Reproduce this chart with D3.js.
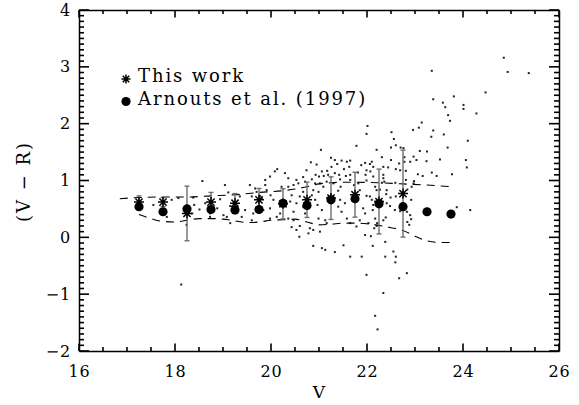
<!DOCTYPE html>
<html><head><meta charset="utf-8">
<script src="https://cdn.jsdelivr.net/npm/d3@7"></script>
<style>body{margin:0;background:#fff}svg{display:block;background:#fff}</style>
</head><body><svg id="c" width="579" height="405"></svg>
<script>
// ---- data ----
const xTicks = [16,18,20,22,24,26];
const yTicks = [-2,-1,0,1,2,3,4];
const thisWorkV = [17.25,17.75,18.25,18.75,19.25,19.75,20.25,20.75,21.25,21.75,22.25,22.75];
const thisWorkC = [0.62,0.62,0.42,0.62,0.60,0.66,0.59,0.66,0.69,0.75,0.63,0.77];
const thisWorkErr = [0.11,0.08,0.48,0.17,0.17,0.20,0.265,0.31,0.375,0.395,0.57,0.765];
const arnoutsV = [17.25,17.75,18.25,18.75,19.25,19.75,20.25,20.75,21.25,21.75,22.25,22.75,23.25,23.75];
const arnoutsC = [0.54,0.45,0.50,0.49,0.48,0.49,0.60,0.56,0.66,0.68,0.59,0.54,0.45,0.41];
const upperV = [16.85,17.25,17.75,18.25,18.75,19.25,19.75,20.25,20.5,20.75,21.0,21.25,21.5,21.75,22.25,22.75,23.25,23.75];
const upperC = [0.68,0.70,0.71,0.71,0.73,0.75,0.79,0.82,0.85,0.89,0.94,0.96,0.97,0.97,0.96,0.94,0.92,0.89];
const lowerV = [17.25,17.5,17.75,18.0,18.25,18.5,18.75,19.0,19.25,19.5,19.75,20.0,20.25,20.5,20.75,21.0,21.25,21.5,21.75,22.0,22.25,22.5,22.75,23.0,23.25,23.5,23.75];
const lowerC = [0.40,0.33,0.28,0.27,0.30,0.33,0.33,0.32,0.29,0.26,0.27,0.30,0.31,0.32,0.27,0.22,0.23,0.25,0.25,0.24,0.21,0.17,0.12,0.02,-0.06,-0.09,-0.09];
const scatterV = [
23.58,23.63,24.01,24.01,24.28,23.69,23.73,23.14,23.08,22.96,23.38,23.60,23.34,22.51,22.56,22.60,22.50,22.70,22.76,22.20,
23.68,24.10,23.10,23.25,23.52,24.06,24.08,22.97,23.03,22.90,23.24,22.31,22.50,22.67,22.78,22.78,22.10,22.06,22.13,22.34,
22.44,22.60,22.81,22.69,22.07,22.34,22.13,22.34,22.36,22.31,22.59,22.98,23.06,23.16,23.35,23.45,23.77,22.97,22.93,22.84,
22.81,22.17,22.20,22.27,22.41,22.06,22.10,22.49,22.60,22.92,22.40,22.13,22.41,22.48,22.58,22.69,22.83,22.90,22.92,22.88,
22.12,22.17,22.21,22.15,22.20,22.34,22.39,22.84,23.87,24.15,22.08,22.12,22.38,22.55,22.60,22.38,22.59,22.83,22.67,22.34,
22.17,22.22,
22.01,21.99,21.78,21.04,20.83,20.95,21.25,21.33,21.38,21.47,21.58,21.65,21.63,21.52,21.26,21.17,21.06,20.93,21.00,21.10,
21.19,21.33,21.42,21.44,21.56,21.65,21.65,21.81,21.88,21.96,21.99,21.97,21.99,21.82,21.73,21.85,21.99,21.92,21.96,21.85,
22.03,21.96,21.78,21.65,21.58,21.47,21.40,21.44,21.54,21.40,21.45,21.30,21.16,21.09,21.02,20.99,20.88,20.85,20.92,20.97,
21.06,20.99,21.13,21.16,21.02,20.88,20.81,20.60,20.53,20.43,20.47,20.36,20.19,20.12,19.98,19.98,19.84,19.63,19.60,20.05,
19.99,19.91,19.81,19.70,19.67,19.56,19.88,19.98,20.08,20.13,20.29,20.36,20.53,20.47,20.57,20.36,20.43,20.53,20.40,20.60,
20.67,20.92,20.85,20.67,20.74,20.71,20.47,20.67,20.71,20.78,20.59,20.88,21.06,21.13,21.33,21.51,21.65,21.89,21.99,19.60,
19.77,19.88,20.22,
17.55,17.93,18.07,18.38,18.57,18.40,18.51,18.63,18.88,18.94,19.04,19.11,19.15,19.35,19.46,19.39,19.15,19.01,18.73,18.24,
17.83,19.08,18.36,18.73,
18.13,23.35,24.85,24.93,25.37,24.47,23.38,23.81];
const scatterC = [
2.37,2.29,2.33,2.26,2.18,2.15,2.05,2.02,1.93,1.89,1.88,1.81,1.77,1.85,1.73,1.62,1.58,1.58,1.57,1.54,
1.58,1.70,1.52,1.51,1.37,1.36,1.23,1.42,1.36,1.33,1.34,1.41,1.36,1.30,1.41,1.33,1.33,1.29,1.24,1.24,
1.23,1.20,1.17,1.18,1.16,1.10,1.07,1.04,0.98,0.96,0.96,0.99,1.11,1.08,1.14,1.08,1.11,0.95,0.89,0.84,
1.01,0.89,0.83,0.84,0.83,0.72,0.66,0.70,0.72,0.66,0.76,0.57,0.60,0.55,0.48,0.46,0.45,0.39,0.32,0.22,
0.48,0.33,0.25,0.16,0.20,0.30,0.35,0.27,0.53,0.48,0.02,-0.15,-0.08,-0.25,-0.34,-0.34,-0.44,-0.63,-0.72,-0.98,
-1.38,-1.62,
1.96,1.82,1.61,1.54,1.32,1.28,1.40,1.36,1.29,1.35,1.33,1.35,1.24,1.20,1.24,1.17,1.16,1.10,1.07,1.08,
1.10,1.13,1.10,1.02,1.08,1.10,1.01,1.14,1.27,1.31,1.18,1.10,1.00,0.95,0.92,0.83,0.73,0.51,0.42,0.30,
0.25,0.04,0.19,0.25,0.33,0.45,0.54,0.66,0.60,0.82,0.89,0.95,0.98,0.89,0.95,0.80,0.83,0.74,0.66,0.57,
0.48,0.33,0.30,0.25,0.10,0.13,0.16,0.20,0.13,0.18,0.30,0.33,0.42,0.36,0.33,0.51,0.48,0.42,0.30,0.66,
0.74,0.83,0.69,0.80,0.86,0.92,1.01,1.07,1.16,1.20,1.13,1.04,1.01,0.92,0.95,0.89,0.74,0.60,0.63,0.72,
0.80,0.95,1.02,1.06,1.18,0.98,0.45,0.54,0.42,0.07,0.01,-0.15,-0.19,-0.22,-0.26,-0.14,-0.34,-0.34,-0.66,0.72,
0.73,0.92,0.89,
0.57,0.66,0.69,0.70,0.99,0.57,0.49,0.60,0.51,0.67,0.92,0.79,0.55,0.72,0.48,0.36,0.25,0.39,0.36,0.22,
0.36,0.36,0.42,0.42,
-0.83,2.93,3.16,2.91,2.89,2.55,2.43,2.48];
const legendLabels = ["This work","Arnouts et al. (1997)"];

// ---- chart ----
const FONT = '"DejaVu Serif", serif';
const svg = d3.select('#c');
const x = d3.scaleLinear().domain([16,26]).range([79,559]);
const y = d3.scaleLinear().domain([-2,4]).range([351,10]);
const fmt = d3.format('d');
const xMinor = d3.range(32,53).map(v=>v/2).filter(v=>!xTicks.includes(v));
const yMinor = d3.range(-20,41).map(v=>v/10).filter(v=>!yTicks.includes(v));
const yBot = y(-2), yTop = y(4), xLeft = x(16), xRight = x(26);

function st(g){
  g.selectAll('path,line').attr('stroke','#000').attr('stroke-width',1.5);
  g.selectAll('text').attr('font-family',FONT).attr('font-size',16).attr('fill','#000').attr('letter-spacing',0.8);
}
// axes (frame + labels)
svg.append('g').attr('transform',`translate(0,${yBot})`)
  .call(d3.axisBottom(x).tickValues(xTicks).tickSize(0).tickPadding(15).tickFormat(fmt)).call(st);
svg.append('g').attr('transform',`translate(0,${yTop})`)
  .call(d3.axisTop(x).tickValues([]).tickSize(0)).call(st);
svg.append('g').attr('transform',`translate(${xLeft},0)`)
  .call(d3.axisLeft(y).tickValues(yTicks).tickSize(0).tickPadding(8).tickFormat(fmt)).call(st);
svg.append('g').attr('transform',`translate(${xRight},0)`)
  .call(d3.axisRight(y).tickValues([]).tickSize(0)).call(st);

// axis titles
svg.append('text').attr('x',(xLeft+xRight)/2).attr('y',398).attr('text-anchor','middle')
  .attr('font-family',FONT).attr('font-size',17).text('V');
svg.append('text').attr('transform',`translate(29.5,${(yTop+yBot)/2+1}) rotate(-90)`).attr('text-anchor','middle')
  .attr('font-family',FONT).attr('font-size',18).attr('letter-spacing',2).text('(V \u2212 R)');

// scatter
svg.append('g').selectAll('rect').data(d3.zip(scatterV,scatterC)).join('rect')
  .attr('x',d=>x(d[0])-1).attr('y',d=>y(d[1])-1).attr('width',2).attr('height',2).attr('fill','#222');

// dashed envelopes
const line = d3.line().x(d=>x(d[0])).y(d=>y(d[1])).curve(d3.curveMonotoneX);
[[upperV,upperC],[lowerV,lowerC]].forEach(([vs,cs])=>{
  svg.append('path').datum(d3.zip(vs,cs)).attr('d',line).attr('fill','none')
    .attr('stroke','#000').attr('stroke-width',1.1).attr('stroke-dasharray','8,6');
});

// error bars
const eb = svg.append('g').attr('stroke','#6e6e6e').attr('stroke-width',1.4);
thisWorkV.forEach((v,i)=>{
  const lo = y(thisWorkC[i]-thisWorkErr[i]), hi = y(thisWorkC[i]+thisWorkErr[i]), cx = x(v);
  eb.append('line').attr('x1',cx).attr('x2',cx).attr('y1',lo).attr('y2',hi);
  eb.append('line').attr('x1',cx-2.5).attr('x2',cx+2.5).attr('y1',lo).attr('y2',lo);
  eb.append('line').attr('x1',cx-2.5).attr('x2',cx+2.5).attr('y1',hi).attr('y2',hi);
});

// symbols
function starPath(cx,cy,r){
  const d=r*0.72;
  return `M${cx-r},${cy}H${cx+r}M${cx},${cy-r}V${cy+r}M${cx-d},${cy-d}L${cx+d},${cy+d}M${cx-d},${cy+d}L${cx+d},${cy-d}`;
}
svg.append('g').selectAll('circle').data(d3.zip(arnoutsV,arnoutsC)).join('circle')
  .attr('cx',d=>x(d[0])).attr('cy',d=>y(d[1])).attr('r',4.6).attr('fill','#000');
svg.append('g').selectAll('path').data(d3.zip(thisWorkV,thisWorkC)).join('path')
  .attr('d',d=>starPath(x(d[0]),y(d[1]),5)).attr('stroke','#000').attr('stroke-width',1.5).attr('fill','none');

// legend
const lg = svg.append('g');
lg.append('path').attr('d',starPath(126,79,4.5)).attr('stroke','#000').attr('stroke-width',1.5);
lg.append('circle').attr('cx',126).attr('cy',101.5).attr('r',4.6).attr('fill','#000');
lg.append('text').attr('x',138).attr('y',82).attr('font-family',FONT).attr('font-size',18).attr('letter-spacing',1.9).text(legendLabels[0]);
lg.append('text').attr('x',138).attr('y',104.5).attr('font-family',FONT).attr('font-size',18).attr('letter-spacing',1.9).text(legendLabels[1]);

// tick marks pointing inward, drawn last: [value, length]
const xTickSpec = xTicks.map(v=>[v,7.5]).concat(xMinor.map(v=>[v,4]));
const yTickSpec = yTicks.map(v=>[v,10]).concat(yMinor.map(v=>[v,5]));
const gt = svg.append('g').attr('class','ticks');
gt.selectAll('line.xb').data(xTickSpec).join('line').attr('class','xb')
  .attr('x1',d=>x(d[0])).attr('x2',d=>x(d[0])).attr('y1',yBot).attr('y2',d=>yBot-d[1]);
gt.selectAll('line.xt').data(xTickSpec).join('line').attr('class','xt')
  .attr('x1',d=>x(d[0])).attr('x2',d=>x(d[0])).attr('y1',yTop).attr('y2',d=>yTop+d[1]);
gt.selectAll('line.yl').data(yTickSpec).join('line').attr('class','yl')
  .attr('y1',d=>y(d[0])).attr('y2',d=>y(d[0])).attr('x1',xLeft).attr('x2',d=>xLeft+d[1]);
gt.selectAll('line.yr').data(yTickSpec).join('line').attr('class','yr')
  .attr('y1',d=>y(d[0])).attr('y2',d=>y(d[0])).attr('x1',xRight).attr('x2',d=>xRight-d[1]);
gt.selectAll('line').attr('stroke','#000').attr('stroke-width',1.6);
</script></body></html>
